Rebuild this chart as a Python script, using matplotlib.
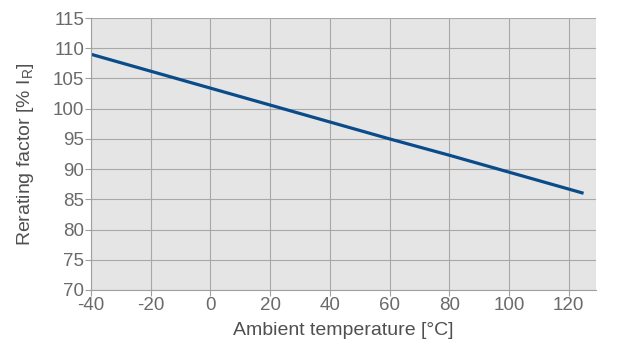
import numpy as np
from matplotlib import pyplot as plt

# Rerating curve
temp = [-40, 0, 20, 40, 60, 80, 100, 125]
factor = [109.0, 103.4, 100.6, 97.8, 95.0, 92.3, 89.5, 86.0]

xTicks = [-40, -20, 0, 20, 40, 60, 80, 100, 120]
yTicks = [70, 75, 80, 85, 90, 95, 100, 105, 110, 115]

plt.rcParams['font.family'] = ['Liberation Sans', 'DejaVu Sans']
plt.rcParams['axes.unicode_minus'] = False

fig = plt.figure(figsize=(6.18, 3.53), dpi=100)
ax = fig.add_axes([0.1472, 0.1785, 0.8164, 0.7705])
ax.set_facecolor('#e5e5e5')

ax.plot(temp, factor, color='#0a4c8a', linewidth=2.3, solid_capstyle='butt')

ax.set_xlim(-40, 129)
ax.set_ylim(70, 115)
ax.set_xticks(xTicks)
ax.set_yticks(yTicks)
ax.grid(True, color='#a8a8a8', linewidth=0.8)
ax.set_axisbelow(True)

for side in ['top', 'right']:
    ax.spines[side].set_visible(False)
for side in ['left', 'bottom']:
    ax.spines[side].set_color('#a0a0a0')
    ax.spines[side].set_linewidth(0.8)

ax.tick_params(axis='both', colors='#a0a0a0', labelcolor='#6a6a6a',
               labelsize=13.5, length=4, width=0.8, pad=1)

ax.set_xlabel('Ambient temperature [°C]', fontsize=14, color='#505050', labelpad=6)
ax.set_ylabel('Rerating factor [% I$_\\mathregular{R}$]', fontsize=14, color='#505050', labelpad=12)

plt.savefig('out.png', dpi=100)
